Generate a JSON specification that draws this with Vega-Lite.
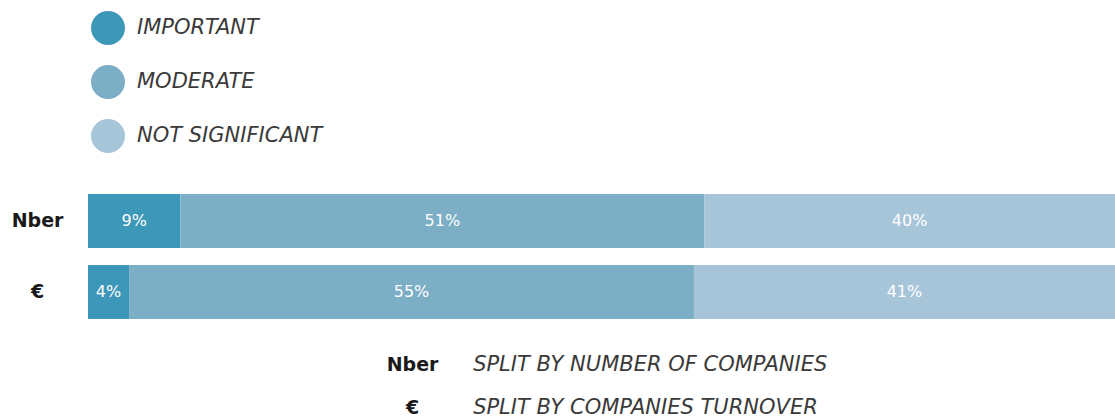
{
  "$schema": "https://vega.github.io/schema/vega-lite/v6.json",
  "width": 1027,
  "height": 418,
  "autosize": {"type": "none"},
  "padding": {"left": 88, "top": 0, "right": 0, "bottom": 0},
  "background": "white",
  "config": {"view": {"stroke": null}, "font": "DejaVu Sans"},
  "datasets": {
    "bars": [
      {"split": "Nber", "cat": "IMPORTANT", "pct": 9},
      {"split": "Nber", "cat": "MODERATE", "pct": 51},
      {"split": "Nber", "cat": "NOT SIGNIFICANT", "pct": 40},
      {"split": "€", "cat": "IMPORTANT", "pct": 4},
      {"split": "€", "cat": "MODERATE", "pct": 55},
      {"split": "€", "cat": "NOT SIGNIFICANT", "pct": 41}
    ],
    "notes": [
      {"key": "Nber", "desc": "SPLIT BY NUMBER OF COMPANIES"},
      {"key": "€", "desc": "SPLIT BY COMPANIES TURNOVER"}
    ]
  },
  "layer": [
    {
      "data": {"name": "bars"},
      "transform": [
        {"stack": "pct", "groupby": ["split"], "sort": [{"field": "cat", "order": "ascending"}], "as": ["x0", "x1"]}
      ],
      "layer": [
        {
          "mark": {"type": "bar"},
          "encoding": {
            "y": {
              "field": "split", "type": "nominal",
              "scale": {"domain": ["Nber", "€"], "range": [194, 319], "paddingInner": 0.239, "paddingOuter": 0},
              "axis": {"title": null, "domain": false, "ticks": false, "grid": false, "labelAlign": "center", "labelPadding": 51, "labelFontSize": 19, "labelFontWeight": "bold", "labelColor": "#1a1a1a", "labelFont": "DejaVu Sans"}
            },
            "x": {"field": "x0", "type": "quantitative", "scale": {"domain": [0, 100], "nice": false}, "axis": null},
            "x2": {"field": "x1"},
            "color": {
              "field": "cat", "type": "nominal",
              "scale": {"domain": ["IMPORTANT", "MODERATE", "NOT SIGNIFICANT"], "range": ["#3d97b8", "#7caec6", "#a7c5d9"]},
              "legend": {
                "orient": "none", "legendX": 3, "legendY": 11, "title": null, "padding": 0,
                "symbolType": "circle", "symbolSize": 1156, "symbolStrokeWidth": 0, "symbolOpacity": 1,
                "labelFont": "DejaVu Sans", "labelFontStyle": "italic", "labelFontSize": 21, "labelColor": "#3a3a3a",
                "labelOffset": 12, "rowPadding": 20, "labelLimit": 400
              }
            }
          }
        },
        {
          "transform": [
            {"calculate": "(datum.x0 + datum.x1) / 2", "as": "mid"},
            {"calculate": "datum.pct + '%'", "as": "lbl"}
          ],
          "mark": {"type": "text", "color": "white", "fontSize": 16, "font": "DejaVu Sans", "align": "center", "baseline": "middle"},
          "encoding": {
            "y": {"field": "split", "type": "nominal"},
            "x": {"field": "mid", "type": "quantitative"},
            "text": {"field": "lbl"}
          }
        }
      ]
    },
    {
      "data": {"name": "notes"},
      "encoding": {
        "y": {"field": "key", "type": "nominal", "scale": {"type": "point", "domain": ["Nber", "€"], "range": [365, 408], "padding": 0}, "axis": null}
      },
      "layer": [
        {
          "mark": {"type": "text", "fontSize": 19, "fontWeight": "bold", "font": "DejaVu Sans", "color": "#1a1a1a", "align": "center", "baseline": "middle"},
          "encoding": {
            "x": {"datum": 31.6, "type": "quantitative"},
            "text": {"field": "key"}
          }
        },
        {
          "mark": {"type": "text", "fontSize": 21, "fontStyle": "italic", "font": "DejaVu Sans", "color": "#3a3a3a", "align": "left", "baseline": "middle"},
          "encoding": {
            "x": {"datum": 37.5, "type": "quantitative"},
            "text": {"field": "desc"}
          }
        }
      ]
    }
  ],
  "resolve": {"scale": {"y": "independent"}}
}
